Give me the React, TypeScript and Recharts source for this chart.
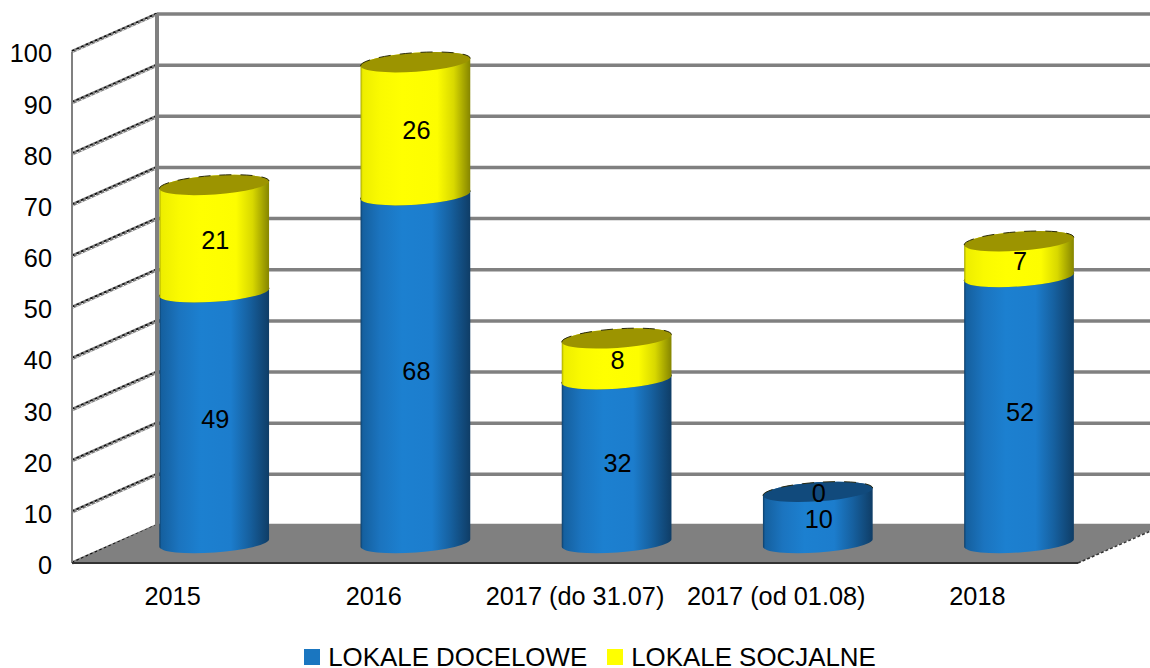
import React from 'react';
import { BarChart, Bar, XAxis, YAxis, CartesianGrid, Legend, LabelList, ReferenceArea } from 'recharts';

const categories = ['2015', '2016', '2017 (do 31.07)', '2017 (od 01.08)', '2018'];
const docelowe = [49, 68, 32, 10, 52];
const socjalne = [21, 26, 8, 0, 7];
const yTicks = [0, 10, 20, 30, 40, 50, 60, 70, 80, 90, 100];

const data = categories.map((name, i) => ({ name, docelowe: docelowe[i], socjalne: socjalne[i] }));

const FONT = '"Liberation Sans", Arial, sans-serif';
const FONT_SIZE = 25.3;
const GREY = '#808080';

// the 3D look: depth of the walls, and how far the cylinders sit behind the front plane
const DEPTH_X = 85;
const DEPTH_Y = -37.5;
const BAR_DX = 41.2;
const BAR_DY = -20;
const RX = 55;
const RY = 9.5;
const TILT = -4;

const Cylinder = (props: any) => {
  const { x, y, width, height, gradient, cap } = props;
  if (!height) return null;
  const cx = x + width / 2 + BAR_DX;
  const top = y + BAR_DY;
  const bottom = top + height;
  const rad = (TILT * Math.PI) / 180;
  const ox = RX * Math.cos(rad);
  const oy = RX * Math.sin(rad);
  const arc = `A ${RX} ${RY} ${TILT} 0 0`;
  const body = `M ${cx - ox} ${top - oy} L ${cx - ox} ${bottom - oy} ${arc} ${cx + ox} ${bottom + oy} L ${cx + ox} ${top + oy} ${arc} ${cx - ox} ${top - oy} Z`;
  const rim = `M ${cx - ox} ${top - oy} A ${RX} ${RY} ${TILT} 0 1 ${cx + ox} ${top + oy}`;
  return (
    <g>
      <path d={body} fill={`url(#${gradient})`} />
      <ellipse cx={cx} cy={top} rx={RX} ry={RY} fill={cap} transform={`rotate(${TILT} ${cx} ${top})`} />
      <path d={rim} fill="none" stroke="#2a2a10" strokeWidth={1} strokeDasharray="12 9" />
    </g>
  );
};

const Walls = (props: any) => {
  const { x, y, width, height } = props;
  const bottom = y + height;
  const floor = `${x},${bottom} ${x + DEPTH_X},${bottom + DEPTH_Y - 1} ${x + width + DEPTH_X},${bottom + DEPTH_Y - 1} ${x + width},${bottom}`;
  return (
    <g>
      <polygon points={floor} fill={GREY} />
      <line x1={x} y1={y} x2={x} y2={bottom} stroke={GREY} strokeWidth={2} />
      <line x1={x + DEPTH_X} y1={y + DEPTH_Y} x2={x + DEPTH_X} y2={bottom + DEPTH_Y} stroke={GREY} strokeWidth={4} />
      <line x1={x} y1={bottom} x2={x + width} y2={bottom} stroke="#333333" strokeWidth={2} />
      <line x1={x + width} y1={bottom} x2={x + width + DEPTH_X} y2={bottom + DEPTH_Y} stroke="#333333" strokeWidth={1.5} strokeDasharray="3 2" />
    </g>
  );
};

const GridLine = (props: any) => {
  const { x1, y1, x2 } = props;
  const bx = x1 + DEPTH_X;
  const by = y1 + DEPTH_Y;
  return (
    <g key={props.index}>
      <line x1={bx} y1={by} x2={x2 + DEPTH_X} y2={by} stroke={GREY} strokeWidth={3.5} />
      <line x1={x1} y1={y1} x2={bx} y2={by} stroke={GREY} strokeWidth={3.5} />
      <line x1={x1} y1={y1 - 0.5} x2={bx} y2={by - 0.5} stroke="#111111" strokeWidth={1.8} strokeDasharray="2.5 2.5" />
      <line x1={x1} y1={y1 + 1} x2={bx} y2={by + 1} stroke="#ffffff" strokeWidth={1} strokeDasharray="2 3" />
    </g>
  );
};

const BarValue = (props: any) => {
  const { x, y, width, height, value } = props;
  return (
    <text
      x={x + width / 2 + BAR_DX + 1}
      y={y + height / 2 + BAR_DY + 1.6}
      textAnchor="middle"
      dominantBaseline="central"
      fontFamily={FONT}
      fontSize={FONT_SIZE}
      fill="#000"
    >
      {value}
    </text>
  );
};

const legendItems = [
  { label: 'LOKALE DOCELOWE', color: '#1a76c0' },
  { label: 'LOKALE SOCJALNE', color: '#ffff00' },
];

const LegendContent = () => (
  <div style={{ display: 'flex', justifyContent: 'center', paddingLeft: 30, fontFamily: FONT, fontSize: 25.9, color: '#000', lineHeight: '22px', height: 22 }}>
    {legendItems.map((item, i) => (
      <div key={item.label} style={{ display: 'flex', alignItems: 'center', marginLeft: i ? 20 : 0 }}>
        <span style={{ width: 16, height: 16, background: item.color, marginRight: 8, display: 'inline-block' }} />
        {item.label}
      </div>
    ))}
  </div>
);

export default function App() {
  return (
    <div style={{ position: 'absolute', left: 0, top: 0, width: 1150, height: 668, background: '#fff' }}>
      <BarChart
        width={1150}
        height={668}
        data={data}
        barSize={110}
        margin={{ top: 51.5, right: 72, bottom: 18, left: 0 }}
      >
        <defs>
          <linearGradient id="blueBody" x1="0" y1="0" x2="1" y2="0">
            <stop offset="0" stopColor="#0e3f69" />
            <stop offset="0.02" stopColor="#15609f" />
            <stop offset="0.18" stopColor="#1b74bf" />
            <stop offset="0.38" stopColor="#1c80d0" />
            <stop offset="0.65" stopColor="#1c7dcd" />
            <stop offset="0.82" stopColor="#16609f" />
            <stop offset="1" stopColor="#0f3d66" />
          </linearGradient>
          <linearGradient id="yellowBody" x1="0" y1="0" x2="1" y2="0">
            <stop offset="0" stopColor="#a8a800" />
            <stop offset="0.02" stopColor="#eeee00" />
            <stop offset="0.18" stopColor="#fafa00" />
            <stop offset="0.38" stopColor="#ffff00" />
            <stop offset="0.7" stopColor="#fdfd00" />
            <stop offset="0.85" stopColor="#d8d800" />
            <stop offset="1" stopColor="#858500" />
          </linearGradient>
        </defs>
        <CartesianGrid horizontal={GridLine as any} vertical={false} syncWithTicks />
        <ReferenceArea y1={0} y2={100} shape={Walls} ifOverflow="visible" />
        <XAxis
          dataKey="name"
          interval={0}
          axisLine={false}
          tickLine={false}
          tickSize={0}
          tickMargin={24}
          height={65}
          tick={{ fontFamily: FONT, fontSize: FONT_SIZE, fill: '#000' }}
        />
        <YAxis
          type="number"
          domain={[0, 100]}
          ticks={yTicks}
          interval={0}
          width={72}
          axisLine={false}
          tickLine={false}
          tickSize={0}
          tickMargin={20}
          tick={{ fontFamily: FONT, fontSize: FONT_SIZE, fill: '#000', dy: 2 }}
        />
        <Legend verticalAlign="bottom" wrapperStyle={{ top: 646, left: 0, width: 1150, height: 22 }} content={<LegendContent />} />
        <Bar
          dataKey="docelowe"
          stackId="a"
          isAnimationActive={false}
          shape={(p: any) => <Cylinder {...p} gradient="blueBody" cap="#114a7c" />}
        >
          <LabelList dataKey="docelowe" content={BarValue as any} />
        </Bar>
        <Bar
          dataKey="socjalne"
          stackId="a"
          isAnimationActive={false}
          shape={(p: any) => <Cylinder {...p} gradient="yellowBody" cap="#9c9400" />}
        >
          <LabelList dataKey="socjalne" content={BarValue as any} />
        </Bar>
      </BarChart>
    </div>
  );
}
